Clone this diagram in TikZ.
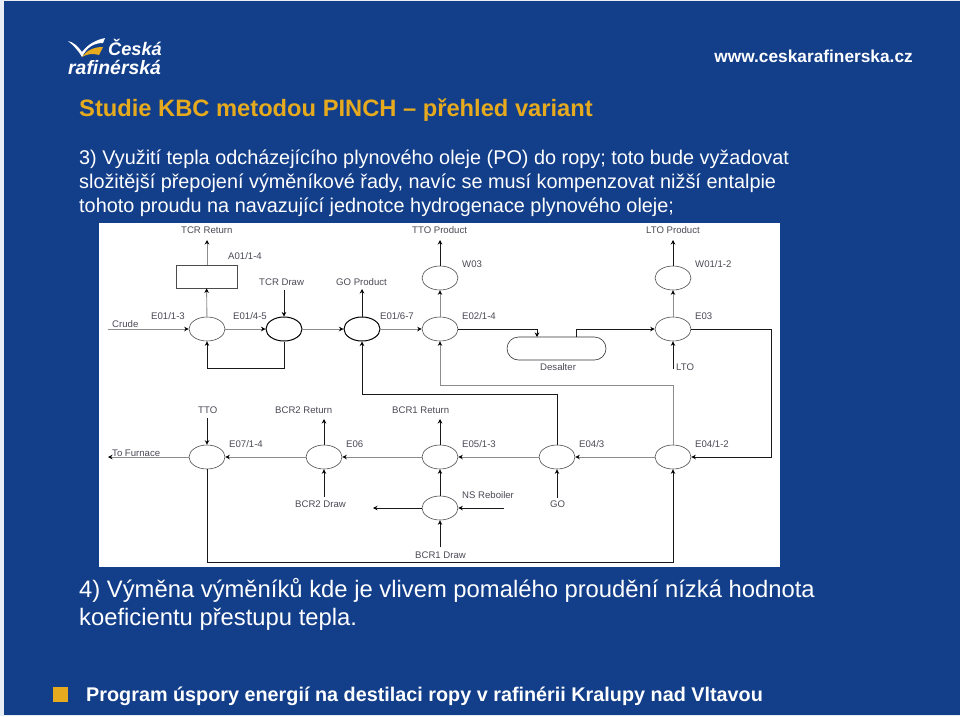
\documentclass[tikz,border=0pt]{standalone}
\usepackage{fontspec}
\setmainfont{Liberation Sans}
\usepackage{xcolor}
\usetikzlibrary{arrows.meta, shapes.geometric, positioning}
\definecolor{slideblue}{HTML}{123E8A}
\definecolor{slidegold}{HTML}{E5AA1E}
\definecolor{edgeblue}{HTML}{E8EEF5}
\definecolor{labelgrey}{HTML}{4A4A55}
\begin{document}
\begin{tikzpicture}[x=1pt, y=-1pt, >={Stealth[length=4.5pt,width=4.5pt,color=black]},
    hx/.style={draw=black!70, ellipse, fill=white, minimum width=36pt, minimum height=24pt, inner sep=0pt, line width=0.6pt},
    hxbold/.style={hx, draw=black, line width=1pt},
    tag/.style={anchor=base west, inner sep=0pt, text=labelgrey, font=\fontsize{9.6}{11}\selectfont},
    flow/.style={->, draw=black!45, line width=0.9pt},
    flowdark/.style={->, draw=black!90, line width=0.9pt},
    bodyline/.style={anchor=base west, inner sep=0pt, text=white, font=\fontsize{19.85}{22}\selectfont},
    bigline/.style={anchor=base west, inner sep=0pt, text=white, font=\fontsize{23.8}{27}\selectfont}]
        \useasboundingbox (0,0) rectangle (960,716);
        \fill[edgeblue] (0,0) rectangle (960,716);
        \fill[slideblue] (4,1) rectangle (960,715);
        % header
        \fill[white] (68,41) .. controls (73,42) and (78,46) .. (82,52) .. controls (88,44) and (96,40) .. (105,38) -- (103,43) .. controls (94,43) and (87,47) .. (82,57) .. controls (78,50) and (73,45) .. (68,41) -- cycle;
        \fill[slidegold] (82,57) .. controls (87,50) and (94,47) .. (103,47) -- (99,55) .. controls (93,53) and (87,54) .. (82,57) -- cycle;
        \node[anchor=base west, inner sep=0pt, text=white, font=\fontsize{18.2}{20}\selectfont\bfseries\itshape] (logoa) at (108,55) {Česká};
        \node[anchor=base west, inner sep=0pt, text=white, font=\fontsize{19.4}{20}\selectfont\bfseries\itshape] (logob) at (68,74) {rafinérská};
        \node[anchor=base east, inner sep=0pt, text=white, font=\fontsize{17.3}{20}\selectfont\bfseries] (url) at (913,62) {www.ceskarafinerska.cz};
        \node[anchor=base west, inner sep=0pt, text=slidegold, font=\fontsize{23.7}{26}\selectfont\bfseries] (title) at (79,116) {Studie KBC metodou PINCH – přehled variant};
        % text
        \node[bodyline] (linea) at (79,164) {3) Využití tepla odcházejícího plynového oleje (PO) do ropy; toto bude vyžadovat};
        \node[bodyline] (lineb) at (79,188) {složitější přepojení výměníkové řady, navíc se musí kompenzovat nižší entalpie};
        \node[bodyline] (linec) at (79,212) {tohoto proudu na navazující jednotce hydrogenace plynového oleje;};
        \node[bigline] (lined) at (79,597) {4) Výměna výměníků kde je vlivem pomalého proudění nízká hodnota};
        \node[bigline] (linee) at (79,625) {koeficientu přestupu tepla.};
        \fill[slidegold] (53,687) rectangle (68,702);
        \node[anchor=base west, inner sep=0pt, text=white, font=\fontsize{19.8}{24}\selectfont\bfseries] (foot) at (86,701) {Program úspory energií na destilaci ropy v rafinérii Kralupy nad Vltavou};
        % scheme
        \fill[white] (99,223) rectangle (780,567);
        \node[hx] (e1) at (207,329) {};
        \node[hxbold] (e2) at (284,329) {};
        \node[hxbold] (e3) at (362,329) {};
        \node[hx] (e4) at (440,329) {};
        \node[hx] (w3) at (440,278) {};
        \node[hx] (e5) at (673,329) {};
        \node[hx] (w1) at (673,278) {};
        \node[draw=black!70, line width=0.8pt, minimum width=61pt, minimum height=23pt, inner sep=0pt] (a1) at (206.5,276.5) {};
        \node[draw=black!80, rounded corners=11.5pt, fill=white, minimum width=99pt, minimum height=23pt, inner sep=0pt, line width=0.6pt] (des) at (556.5,348.5) {};
        \node[hx] (f1) at (207,457) {};
        \node[hx] (f2) at (324,457) {};
        \node[hx] (f3) at (440,457) {};
        \node[hx] (f4) at (557,457) {};
        \node[hx] (f5) at (673,457) {};
        \node[hx] (ns) at (440,508) {};
        % free ends
        \coordinate (crude) at (108,329);
        \coordinate (furn) at (108,457);
        \coordinate (tcrret) at (207,240);
        \coordinate (tcrdraw) at (284,290);
        \coordinate (goprod) at (362,289);
        \coordinate (ttoprod) at (440,240);
        \coordinate (ltoprod) at (673,240);
        \coordinate (lto) at (673,369);
        \coordinate (tto) at (207,418);
        \coordinate (bcrret) at (324,419);
        \coordinate (bcrdraw) at (324,497);
        \coordinate (bcrone) at (440,419);
        \coordinate (bcrod) at (440,547);
        \coordinate (go) at (557,498);
        \coordinate (nsin) at (504,508);
        \coordinate (nsout) at (373,508);
        % top row
        \draw[flow] (crude) -- (e1);
        \draw[flow] (e1) -- (e2);
        \draw[flow] (e2) -- (e3);
        \draw[flow] (e3) -- (e4);
        \draw[flow] (e1) -- (a1);
        \draw[flow] (a1.north -| tcrret) -- (tcrret);
        \draw[flowdark] (e2.south) -- ++(0,27) -| (e1.south);
        \draw[flowdark] (tcrdraw) -- (e2.north);
        \draw[flowdark] (e3.north) -- (goprod);
        \draw[flow] (e4) -- (w3);
        \draw[flowdark] (w3) -- (ttoprod);
        \draw[flowdark] (w1) -- (ltoprod);
        \draw[flow] (e5) -- (w1);
        \draw[flowdark] (lto) -- (e5);
        \draw[flowdark] (e4.east) -- (537,329) -- (537,337);
        \draw[flowdark] (576,337) -- (576,329) -- (e5.west);
        % lower row
        \draw[flow] (f1) -- (furn);
        \draw[flow] (f2) -- (f1);
        \draw[flow] (f3) -- (f2);
        \draw[flow] (f4) -- (f3);
        \draw[flow] (f5) -- (f4);
        \draw[flowdark] (tto) -- (f1);
        \draw[flowdark] (f2) -- (bcrret);
        \draw[flowdark] (bcrdraw) -- (f2);
        \draw[flowdark] (f3) -- (bcrone);
        \draw[flowdark] (ns) -- (f3);
        \draw[flowdark] (bcrod) -- (ns);
        \draw[flowdark] (go) -- (f4);
        \draw[flowdark] (nsin) -- (ns);
        \draw[flowdark] (ns) -- (nsout);
        % long returns
        \draw[flowdark] (f4.north) |- (362,394) -- (e3.south);
        \draw[flow] (f5.north) |- (440,385) -- (e4.south);
        \draw[flowdark] (e5.east) -| (771,457) -- (f5.east);
        \draw[flowdark] (f1.south) |- (673,562) -- (f5.south);
        % labels
        \node[tag] (t1) at (181,233) {TCR Return};
        \node[tag] (t2) at (228,259) {A01/1-4};
        \node[tag] (t3) at (259,285) {TCR Draw};
        \node[tag] (t4) at (336,285) {GO Product};
        \node[tag] (t5) at (412,233) {TTO Product};
        \node[tag] (t6) at (646,233) {LTO Product};
        \node[tag] (t7) at (462,267) {W03};
        \node[tag] (t8) at (695,267) {W01/1-2};
        \node[tag] (t9) at (151,319) {E01/1-3};
        \node[tag] (t10) at (233,319) {E01/4-5};
        \node[tag] (t11) at (380,319) {E01/6-7};
        \node[tag] (t12) at (462,319) {E02/1-4};
        \node[tag] (t13) at (695,319) {E03};
        \node[tag] (t14) at (112,327) {Crude};
        \node[tag] (t15) at (540,370) {Desalter};
        \node[tag] (t16) at (676,370) {LTO};
        \node[tag] (t17) at (198,413) {TTO};
        \node[tag] (t18) at (275,413) {BCR2 Return};
        \node[tag] (t19) at (392,413) {BCR1 Return};
        \node[tag] (t20) at (229,447) {E07/1-4};
        \node[tag] (t21) at (346,447) {E06};
        \node[tag] (t22) at (462,447) {E05/1-3};
        \node[tag] (t23) at (579,447) {E04/3};
        \node[tag] (t24) at (695,447) {E04/1-2};
        \node[tag] (t25) at (112,456) {To Furnace};
        \node[tag] (t26) at (295,507) {BCR2 Draw};
        \node[tag] (t27) at (462,498) {NS Reboiler};
        \node[tag] (t28) at (550,507) {GO};
        \node[tag] (t29) at (415,558) {BCR1 Draw};
      \end{tikzpicture}
\end{document}
